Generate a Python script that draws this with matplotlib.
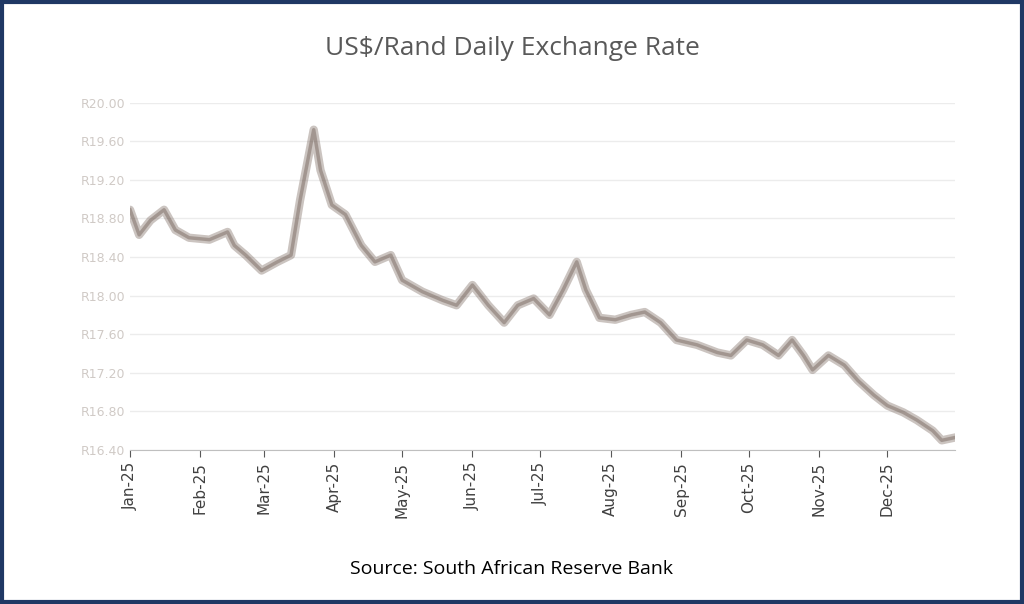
import matplotlib
matplotlib.use("Agg")
import matplotlib.pyplot as plt
import matplotlib.dates as mdates
import pandas as pd
from matplotlib.patches import Rectangle

dates = ["2025-01-01", "2025-01-05", "2025-01-10", "2025-01-16", "2025-01-21", "2025-01-27",
         "2025-02-05", "2025-02-13", "2025-02-16", "2025-02-21", "2025-02-28", "2025-03-07",
         "2025-03-13", "2025-03-17", "2025-03-23", "2025-03-26", "2025-03-31", "2025-04-06",
         "2025-04-13", "2025-04-19", "2025-04-26", "2025-05-01", "2025-05-10", "2025-05-19",
         "2025-05-25", "2025-06-01", "2025-06-08", "2025-06-15", "2025-06-21", "2025-06-28",
         "2025-07-05", "2025-07-11", "2025-07-17", "2025-07-21", "2025-07-27", "2025-08-03",
         "2025-08-10", "2025-08-16", "2025-08-23", "2025-08-30", "2025-09-08", "2025-09-17",
         "2025-09-23", "2025-09-30", "2025-10-07", "2025-10-14", "2025-10-20", "2025-10-25",
         "2025-10-29", "2025-11-05", "2025-11-12", "2025-11-18", "2025-11-25", "2025-12-01",
         "2025-12-08", "2025-12-14", "2025-12-21", "2025-12-25", "2025-12-31"]
rates = [18.89, 18.63, 18.78, 18.89, 18.68, 18.60, 18.58, 18.66, 18.52, 18.42, 18.26, 18.35,
         18.42, 18.99, 19.72, 19.30, 18.94, 18.84, 18.52, 18.35, 18.42, 18.16, 18.04, 17.95,
         17.90, 18.11, 17.90, 17.72, 17.90, 17.97, 17.80, 18.06, 18.35, 18.06, 17.77, 17.75,
         17.80, 17.83, 17.72, 17.54, 17.49, 17.41, 17.38, 17.54, 17.49, 17.38, 17.54, 17.38,
         17.23, 17.38, 17.28, 17.12, 16.97, 16.86, 16.79, 16.71, 16.60, 16.50, 16.53]
y_ticks = [16.4, 16.8, 17.2, 17.6, 18.0, 18.4, 18.8, 19.2, 19.6, 20.0]

x = pd.to_datetime(dates)

fig = plt.figure(figsize=(10.24, 6.04), dpi=100)
fig.patches.append(Rectangle((0.002, 0.003), 0.996, 0.994, transform=fig.transFigure,
                             fill=False, edgecolor="#1f3864", linewidth=3))
ax = fig.add_axes([0.127, 0.255, 0.806, 0.575])

ax.plot(x, rates, color="#8c7c74", linewidth=6, alpha=0.45, solid_capstyle="round")
ax.plot(x, rates, color="#7a6a62", linewidth=2.5, alpha=0.5)

ax.set_xlim(pd.Timestamp("2025-01-01"), pd.Timestamp("2025-12-31"))
ax.set_ylim(16.4, 20.0)
ax.set_yticks(y_ticks)
ax.set_yticklabels([f"R{v:.2f}" for v in y_ticks], color="#d0cac6", fontsize=9)
ax.yaxis.grid(True, color="#ececec", linewidth=1)
ax.set_axisbelow(True)
ax.tick_params(axis="y", length=0)

ax.xaxis.set_major_locator(mdates.MonthLocator())
ax.xaxis.set_major_formatter(mdates.DateFormatter("%b-%y"))
ax.tick_params(axis="x", rotation=90, labelsize=11, colors="#595959", length=5)
for lbl in ax.get_xticklabels():
    lbl.set_color("#404040")

for s in ["top", "right", "left"]:
    ax.spines[s].set_visible(False)
ax.spines["bottom"].set_color("#bfbfbf")

fig.text(0.5, 0.92, "US$/Rand Daily Exchange Rate", ha="center", va="center",
         fontsize=19, color="#595959", family="Open Sans")
fig.text(0.5, 0.058, "Source: South African Reserve Bank", ha="center", va="center",
         fontsize=14, color="black", family="Open Sans")

fig.savefig("out.png", dpi=100)
